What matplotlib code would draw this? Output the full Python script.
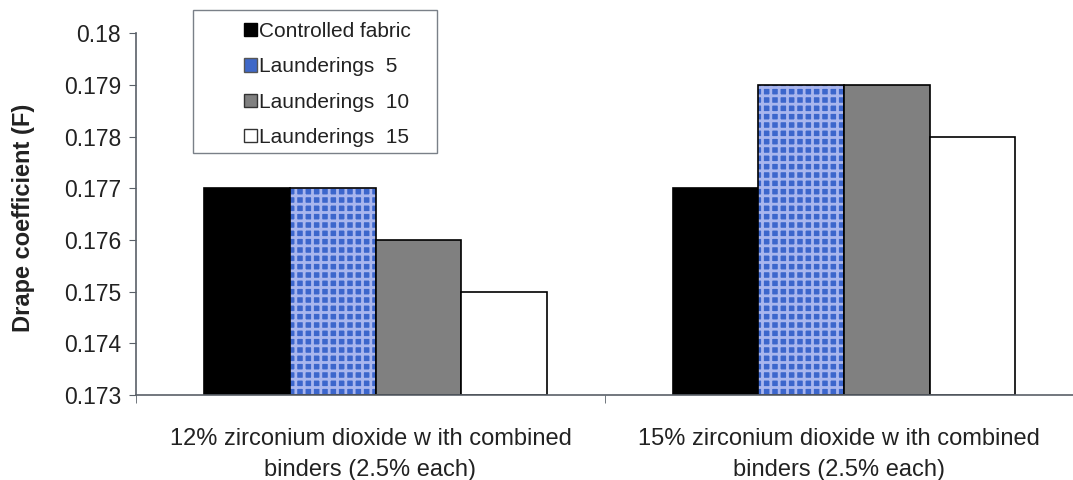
import numpy as np
import matplotlib.pyplot as plt
from matplotlib.patches import Patch, Rectangle

categories = ["12% zirconium dioxide w ith combined\nbinders (2.5% each)",
              "15% zirconium dioxide w ith combined\nbinders (2.5% each)"]
series_names = ["Controlled fabric", "Launderings  5", "Launderings  10", "Launderings  15"]
controlled = [0.177, 0.177]
launder_5 = [0.177, 0.179]
launder_10 = [0.176, 0.179]
launder_15 = [0.175, 0.178]
y_ticks = [0.173, 0.174, 0.175, 0.176, 0.177, 0.178, 0.179, 0.18]
y_tick_labels = ["0.173", "0.174", "0.175", "0.176", "0.177", "0.178", "0.179", "0.18"]

plt.rcParams['font.family'] = ['Liberation Sans', 'DejaVu Sans']
plt.rcParams['hatch.linewidth'] = 2.0

fig = plt.figure(figsize=(10.73, 4.8), dpi=100)
ax = fig.add_axes([0.127, 0.177, 0.873, 0.754])

width = 0.183
x = np.arange(len(categories)) + 0.011
offsets = (np.arange(4) - 1.5) * width
base = 0.173

ax.bar(x + offsets[0], np.array(controlled) - base, width, bottom=base,
       color='black', edgecolor='black', linewidth=1.2)
# textured blue fabric bars
ax.bar(x + offsets[1], np.array(launder_5) - base, width, bottom=base,
       color='#3c66cc', edgecolor='#a9b6ee', hatch='++', linewidth=0)
ax.bar(x + offsets[1], np.array(launder_5) - base, width, bottom=base,
       fill=False, edgecolor='black', linewidth=1.2)
ax.bar(x + offsets[2], np.array(launder_10) - base, width, bottom=base,
       color='#808080', edgecolor='black', linewidth=1.2)
ax.bar(x + offsets[3], np.array(launder_15) - base, width, bottom=base,
       color='white', edgecolor='black', linewidth=1.2)

ax.set_xlim(-0.5, 1.5)
ax.set_ylim(0.173, 0.18)
ax.set_yticks(y_ticks)
ax.set_yticklabels(y_tick_labels, fontsize=16.5, color='#222222')
ax.set_xticks(np.arange(len(categories)))
ax.set_xticklabels(categories, fontsize=17, color='#222222', linespacing=1.5)
ax.tick_params(axis='x', which='major', length=0, pad=24)
ax.set_xticks([-0.5, 0.5, 1.5], minor=True)
ax.tick_params(axis='x', which='minor', length=6, color='#5a6068', direction='out')
ax.tick_params(axis='y', length=5, color='#5a6068', direction='out', pad=6)

ax.set_ylabel("Drape coefficient (F)", fontsize=17, fontweight='bold',
              color='#222222', labelpad=18)
ax.yaxis.set_label_coords(-0.108, 0.49)

for s in ['top', 'right']:
    ax.spines[s].set_visible(False)
for s in ['left', 'bottom']:
    ax.spines[s].set_color('#5a6068')
    ax.spines[s].set_linewidth(1.2)

handles = [
    Patch(facecolor='black', edgecolor='black', label=series_names[0]),
    Patch(facecolor='#3f68c8', edgecolor='#555555', label=series_names[1]),
    Patch(facecolor='#808080', edgecolor='#333333', label=series_names[2]),
    Patch(facecolor='white', edgecolor='#333333', label=series_names[3]),
]
leg = fig.legend(handles=handles, loc='upper left', bbox_to_anchor=(0.222, 0.967),
                 frameon=False, fontsize=15, handlelength=0.6,
                 handleheight=0.6, handletextpad=0.12, labelspacing=0.78,
                 borderpad=0.3, borderaxespad=0)
for t in leg.get_texts():
    t.set_color('#222222')

# legend frame
fig.patches.append(Rectangle((193 / 1073, 1 - 153 / 480), 244 / 1073, 143 / 480,
                             transform=fig.transFigure, fill=False,
                             edgecolor='#7a8088', linewidth=1.0))

fig.savefig('out.png', dpi=100, facecolor='white')
